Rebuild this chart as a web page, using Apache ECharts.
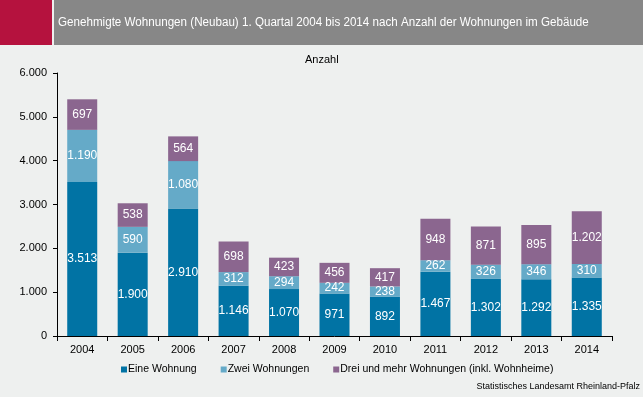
<!DOCTYPE html>
<html>
<head>
<meta charset="utf-8">
<script src="https://cdn.jsdelivr.net/npm/echarts@6/dist/echarts.min.js"></script>
<style>
  html, body { margin: 0; padding: 0; background: #eef0ef; }
  #chart { width: 643px; height: 397px; }
</style>
</head>
<body>
<div id="chart"></div>
<script>
// Daten
var jahre = ['2004', '2005', '2006', '2007', '2008', '2009', '2010', '2011', '2012', '2013', '2014'];
var eineWohnung = [3513, 1900, 2910, 1146, 1070, 971, 892, 1467, 1302, 1292, 1335];
var zweiWohnungen = [1190, 590, 1080, 312, 294, 242, 238, 262, 326, 346, 310];
var dreiUndMehr = [697, 538, 564, 698, 423, 456, 417, 948, 871, 895, 1202];

function fmt(n) {
    return String(n).replace(/\B(?=(\d{3})+(?!\d))/g, '.');
}

var dom = document.getElementById('chart');
var myChart = echarts.init(dom, null, { renderer: 'canvas' });

var labelStyle = {
    show: true,
    position: 'inside',
    color: '#ffffff',
    fontFamily: 'Liberation Sans, Arial, sans-serif',
    fontSize: 12,
    formatter: function (p) { return fmt(p.value); }
};

var option = {
    backgroundColor: '#eef0ef',
    animation: false,
    textStyle: { fontFamily: 'Liberation Sans, Arial, sans-serif' },
    graphic: [
        { type: 'rect', shape: { x: 0, y: 0, width: 52, height: 45 }, style: { fill: '#b5123e' } },
        { type: 'rect', shape: { x: 54, y: 0, width: 589, height: 45 }, style: { fill: '#878787' } },
        {
            type: 'text', x: 58, y: 23, scaleX: 0.93,
            style: {
                text: 'Genehmigte Wohnungen (Neubau) 1. Quartal 2004 bis 2014 nach Anzahl der Wohnungen im Gebäude',
                fill: '#ffffff', font: '12.5px Liberation Sans, Arial, sans-serif',
                verticalAlign: 'middle'
            }
        },
        {
            type: 'text', left: 305, top: 54,
            style: { text: 'Anzahl', fill: '#000000', font: '11px Liberation Sans, Arial, sans-serif' }
        },
        {
            type: 'text', right: 3, top: 382,
            style: { text: 'Statistisches Landesamt Rheinland-Pfalz', fill: '#000000', font: '9px Liberation Sans, Arial, sans-serif' }
        }
    ],
    legend: {
        data: ['Eine Wohnung', 'Zwei Wohnungen', 'Drei und mehr Wohnungen (inkl. Wohnheime)'],
        top: 364,
        left: 121,
        padding: 0,
        icon: 'rect',
        itemWidth: 6,
        itemHeight: 6,
        itemGap: 24,
        textStyle: { fontSize: 10.5, color: '#000000', padding: [0, 0, 0, -4] }
    },
    grid: {
        left: 57,
        right: 31,
        top: 73,
        bottom: 61
    },
    xAxis: {
        type: 'category',
        data: jahre,
        axisLine: { lineStyle: { color: '#000000', width: 1 } },
        axisTick: { show: true, alignWithLabel: false, length: 5, lineStyle: { color: '#000000' } },
        axisLabel: { color: '#000000', fontSize: 11, margin: 8 }
    },
    yAxis: {
        type: 'value',
        min: 0,
        max: 6000,
        interval: 1000,
        axisLine: { show: true, lineStyle: { color: '#000000', width: 1 } },
        axisTick: { show: true, length: 4, lineStyle: { color: '#000000' } },
        splitLine: { show: false },
        axisLabel: {
            color: '#000000', fontSize: 11, margin: 10,
            formatter: function (v) { return fmt(v); }
        }
    },
    series: [
        {
            name: 'Eine Wohnung', type: 'bar', stack: 'gesamt',
            data: eineWohnung, barWidth: 30,
            itemStyle: { color: '#0173a4' }, label: labelStyle
        },
        {
            name: 'Zwei Wohnungen', type: 'bar', stack: 'gesamt',
            data: zweiWohnungen, barWidth: 30,
            itemStyle: { color: '#65aac8' }, label: labelStyle
        },
        {
            name: 'Drei und mehr Wohnungen (inkl. Wohnheime)', type: 'bar', stack: 'gesamt',
            data: dreiUndMehr, barWidth: 30,
            itemStyle: { color: '#8b668f' }, label: labelStyle
        }
    ]
};

myChart.setOption(option);
window.addEventListener('resize', myChart.resize);
</script>
</body>
</html>
